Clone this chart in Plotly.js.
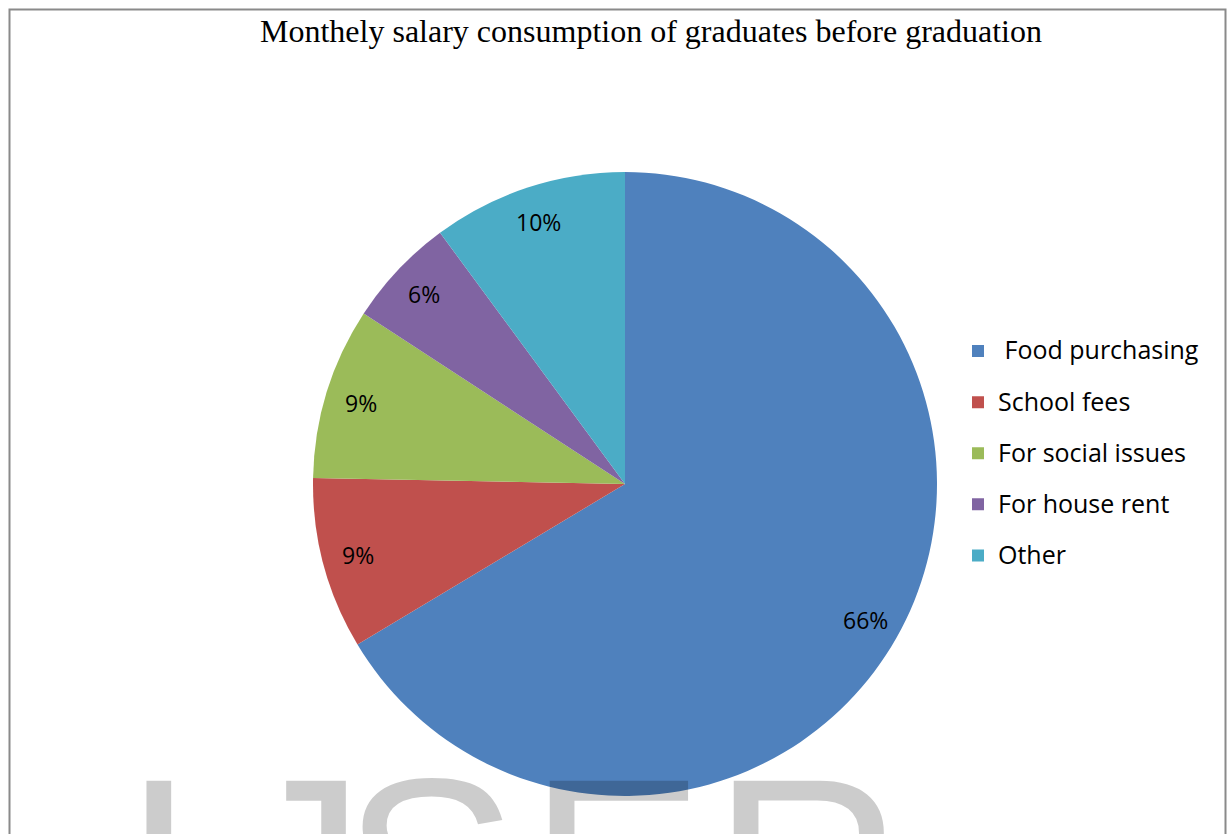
<!DOCTYPE html>
<html><head><meta charset="utf-8">
<script src="https://cdn.plot.ly/plotly-3.0.1.min.js"></script>
<style>html,body{margin:0;padding:0;background:#fff;} #chart{width:1231px;height:834px;}</style>
</head><body><div id="chart"></div>
<script>
// ---- data ----
const categories = [' Food purchasing', 'School fees', 'For social issues', 'For house rent', 'Other'];
const values = [66.4, 8.9, 8.9, 5.7, 10.1];
const colors = ['#4f81bd', '#c0504d', '#9bbb59', '#8064a2', '#4bacc6'];
const chartTitle = 'Monthely salary consumption of graduates before graduation';
const watermarkLetters = ['I', 'J', 'S', 'E', 'R'];

// ---- layout constants ----
const W = 1231, H = 834;
const dom = {x: [313 / W, 937 / W], y: [38 / H, 662 / H]};
const labelRadiusFrac = 0.885;

const total = values.reduce((a, b) => a + b, 0);
const Rpx = (dom.x[1] - dom.x[0]) * W / 2;
const cx = (dom.x[0] + dom.x[1]) / 2, cy = (dom.y[0] + dom.y[1]) / 2;

const annotations = [];
let cum = 0;
values.forEach((v, i) => {
  const mid = (cum + v / 2) / total;
  cum += v;
  const th = mid * 2 * Math.PI;
  annotations.push({
    xref: 'paper', yref: 'paper', showarrow: false,
    x: cx + labelRadiusFrac * Rpx * Math.sin(th) / W,
    y: cy + labelRadiusFrac * Rpx * Math.cos(th) / H,
    xanchor: 'center', yanchor: 'middle',
    text: Math.round(v / total * 100) + '%',
    font: {family: 'Open Sans', size: 23, color: '#000'}
  });
});

// watermark (decorative grey; translucent black darkens the pie like the original)
const wmCenters = [158.5, 299, 430, 616.5, 807.5];
watermarkLetters.forEach((ch, i) => {
  annotations.push({
    xref: 'paper', yref: 'paper', showarrow: false,
    x: wmCenters[i] / W, y: 1 - 721 / H, xanchor: 'center', yanchor: 'top',
    text: ch, font: {family: 'Liberation Sans', size: 265, color: 'rgba(0,0,0,0.2)'}
  });
});

const trace = {
  type: 'pie',
  labels: categories.map(c => '<span style="font-size:25px;baseline-shift:6px">' + c.replace(/^ /, '\u00a0') + '</span>'),
  values: values,
  sort: false,
  direction: 'clockwise',
  rotation: 0,
  domain: dom,
  marker: {colors: colors, line: {width: 0}},
  textinfo: 'none',
  hoverinfo: 'label+percent',
  showlegend: true
};

const layout = {
  width: W, height: H,
  margin: {l: 0, r: 0, t: 0, b: 0},
  paper_bgcolor: '#fff',
  title: {
    text: chartTitle, x: 651 / W, xanchor: 'center', xref: 'container',
    y: 1 - 19.6 / H, yanchor: 'top', yref: 'container',
    font: {family: 'Liberation Serif', size: 32, color: '#000'}
  },
  legend: {
    x: 958 / W, xanchor: 'left', y: 1 - 320.5 / H, yanchor: 'top',
    font: {family: 'Open Sans', size: 37, color: '#000'},
    bgcolor: 'rgba(0,0,0,0)', borderwidth: 0
  },
  shapes: [{
    type: 'rect', xref: 'paper', yref: 'paper', layer: 'below',
    x0: 9.5 / W, x1: 1225.5 / W, y0: -0.1, y1: 1 - 9.5 / H,
    line: {color: '#8a8a8a', width: 2}, fillcolor: 'rgba(0,0,0,0)'
  }],
  annotations: annotations
};

Plotly.newPlot('chart', [trace], layout, {displayModeBar: false, responsive: false});
</script>
</body></html>
